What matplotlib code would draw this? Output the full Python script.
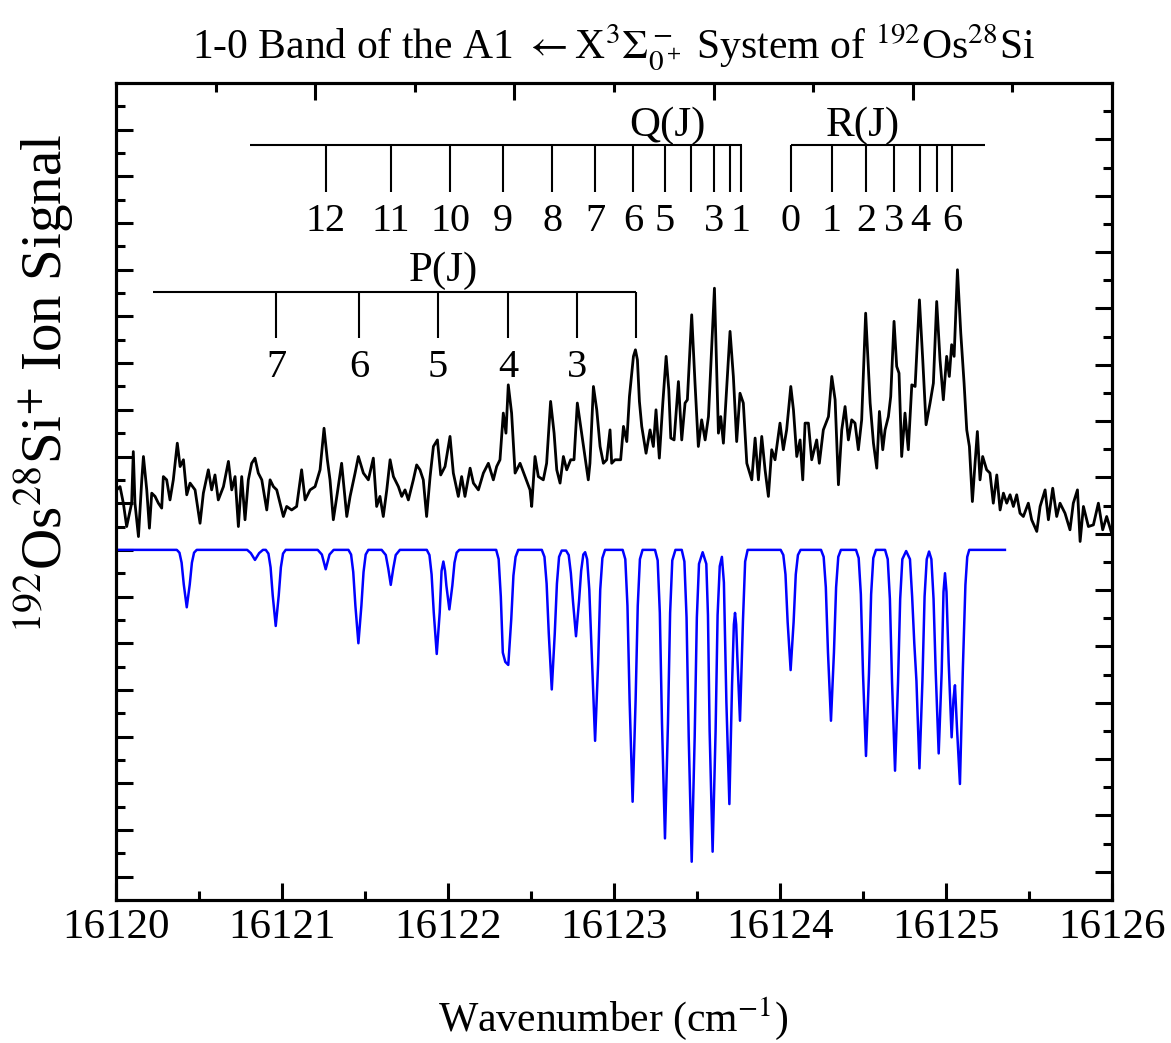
import numpy as np
import matplotlib.pyplot as plt

plt.rcParams['font.family'] = ['Liberation Serif', 'DejaVu Serif']
plt.rcParams['mathtext.fontset'] = 'stix'

obs_points = [
    (16120.004, 17.57), (16120.024, 17.71), (16120.044, 17.00), (16120.064, 16.00), (16120.094, 17.00),
    (16120.104, 19.21), (16120.114, 17.00), (16120.135, 15.57), (16120.155, 18.00), (16120.165, 19.00),
    (16120.185, 17.57), (16120.201, 15.93), (16120.215, 17.43), (16120.235, 17.29), (16120.255, 17.00),
    (16120.275, 16.79), (16120.285, 18.14), (16120.305, 18.00), (16120.325, 17.14), (16120.345, 18.00),
    (16120.369, 19.57), (16120.386, 18.57), (16120.406, 18.86), (16120.426, 17.36), (16120.446, 17.86),
    (16120.476, 17.57), (16120.506, 16.14), (16120.526, 17.43), (16120.556, 18.43), (16120.576, 17.57),
    (16120.596, 18.21), (16120.616, 17.14), (16120.647, 17.71), (16120.677, 18.79), (16120.697, 17.57),
    (16120.717, 18.14), (16120.737, 16.00), (16120.757, 18.14), (16120.777, 16.29), (16120.797, 18.00),
    (16120.817, 18.71), (16120.837, 18.93), (16120.857, 18.29), (16120.878, 18.00), (16120.908, 16.71),
    (16120.928, 18.00), (16120.948, 17.71), (16120.968, 17.57), (16121.008, 16.43), (16121.028, 16.86),
    (16121.058, 16.71), (16121.088, 16.86), (16121.118, 18.43), (16121.139, 17.14), (16121.169, 17.57),
    (16121.199, 17.71), (16121.229, 18.43), (16121.253, 20.21), (16121.273, 18.86), (16121.289, 18.00),
    (16121.309, 16.29), (16121.333, 17.43), (16121.359, 18.71), (16121.390, 16.43), (16121.410, 17.29),
    (16121.440, 18.29), (16121.460, 19.00), (16121.490, 18.29), (16121.520, 18.00), (16121.550, 18.93),
    (16121.570, 16.86), (16121.590, 17.29), (16121.610, 16.43), (16121.631, 17.57), (16121.651, 18.86),
    (16121.671, 18.14), (16121.701, 17.71), (16121.721, 17.29), (16121.741, 17.57), (16121.761, 17.14),
    (16121.791, 18.00), (16121.811, 18.64), (16121.831, 18.43), (16121.851, 18.00), (16121.871, 16.43),
    (16121.892, 18.14), (16121.912, 19.43), (16121.936, 19.71), (16121.956, 18.21), (16121.982, 18.57),
    (16122.012, 19.86), (16122.032, 18.29), (16122.062, 17.29), (16122.082, 18.14), (16122.102, 17.29),
    (16122.133, 18.50), (16122.153, 17.86), (16122.183, 17.57), (16122.213, 18.29), (16122.243, 18.71),
    (16122.273, 18.00), (16122.293, 18.57), (16122.313, 18.86), (16122.333, 20.86), (16122.349, 20.00),
    (16122.363, 22.07), (16122.383, 20.86), (16122.404, 18.29), (16122.434, 18.71), (16122.464, 18.14),
    (16122.494, 17.57), (16122.504, 16.86), (16122.524, 19.00), (16122.544, 18.14), (16122.574, 18.00),
    (16122.594, 18.71), (16122.618, 21.36), (16122.639, 20.00), (16122.655, 18.43), (16122.675, 17.86),
    (16122.695, 19.00), (16122.715, 18.43), (16122.739, 18.86), (16122.759, 18.86), (16122.779, 21.29),
    (16122.805, 20.00), (16122.825, 19.00), (16122.845, 18.00), (16122.855, 18.71), (16122.876, 22.00),
    (16122.896, 21.00), (16122.916, 19.43), (16122.936, 18.71), (16122.956, 18.86), (16122.976, 20.14),
    (16122.986, 18.71), (16123.006, 18.86), (16123.040, 18.86), (16123.057, 20.29), (16123.077, 19.64),
    (16123.093, 21.57), (16123.117, 23.29), (16123.129, 23.57), (16123.141, 23.14), (16123.153, 21.36),
    (16123.167, 20.29), (16123.193, 19.14), (16123.217, 20.14), (16123.237, 19.43), (16123.253, 21.00),
    (16123.273, 18.93), (16123.294, 21.29), (16123.314, 23.29), (16123.330, 21.86), (16123.342, 19.79),
    (16123.362, 19.71), (16123.388, 22.21), (16123.408, 19.71), (16123.428, 21.29), (16123.442, 21.43),
    (16123.468, 25.07), (16123.488, 22.14), (16123.508, 19.43), (16123.528, 20.57), (16123.549, 19.71),
    (16123.569, 20.71), (16123.605, 26.21), (16123.629, 20.00), (16123.643, 20.71), (16123.659, 19.57),
    (16123.699, 24.36), (16123.719, 22.43), (16123.739, 19.64), (16123.759, 21.71), (16123.779, 21.29),
    (16123.800, 18.71), (16123.830, 18.00), (16123.850, 19.79), (16123.870, 18.00), (16123.890, 19.86),
    (16123.910, 18.43), (16123.930, 17.29), (16123.950, 19.29), (16123.970, 18.86), (16124.000, 20.43),
    (16124.020, 19.29), (16124.040, 20.14), (16124.065, 22.00), (16124.081, 21.00), (16124.101, 19.00),
    (16124.121, 19.71), (16124.137, 18.00), (16124.151, 20.43), (16124.171, 20.43), (16124.191, 18.86),
    (16124.221, 19.71), (16124.237, 18.71), (16124.261, 20.14), (16124.292, 20.71), (16124.312, 22.43),
    (16124.332, 21.43), (16124.352, 17.79), (16124.372, 20.14), (16124.392, 21.14), (16124.412, 19.71),
    (16124.432, 20.57), (16124.452, 20.43), (16124.472, 19.29), (16124.492, 20.57), (16124.516, 25.14),
    (16124.543, 21.29), (16124.563, 19.57), (16124.583, 18.50), (16124.599, 20.93), (16124.619, 19.29),
    (16124.633, 20.14), (16124.653, 20.71), (16124.667, 21.57), (16124.687, 24.79), (16124.703, 22.86),
    (16124.717, 22.57), (16124.733, 19.00), (16124.753, 20.86), (16124.773, 19.29), (16124.794, 22.07),
    (16124.814, 22.00), (16124.840, 25.71), (16124.860, 23.14), (16124.880, 20.36), (16124.904, 21.29),
    (16124.924, 22.14), (16124.944, 25.64), (16124.964, 23.14), (16124.984, 21.43), (16125.004, 23.29),
    (16125.020, 22.43), (16125.034, 23.79), (16125.049, 23.29), (16125.069, 27.00), (16125.089, 24.29),
    (16125.109, 22.14), (16125.125, 20.14), (16125.141, 19.43), (16125.159, 17.07), (16125.175, 18.71),
    (16125.189, 20.07), (16125.205, 18.00), (16125.221, 19.00), (16125.245, 18.43), (16125.265, 18.29),
    (16125.285, 17.00), (16125.306, 18.21), (16125.326, 16.71), (16125.346, 17.43), (16125.366, 17.00),
    (16125.386, 17.36), (16125.406, 16.86), (16125.426, 17.36), (16125.446, 16.57), (16125.466, 16.43),
    (16125.496, 17.00), (16125.516, 16.29), (16125.547, 15.79), (16125.567, 16.86), (16125.597, 17.57),
    (16125.617, 16.29), (16125.643, 17.64), (16125.667, 16.43), (16125.687, 17.00), (16125.717, 16.57),
    (16125.747, 15.86), (16125.767, 17.00), (16125.792, 17.57), (16125.808, 15.36), (16125.828, 16.86),
    (16125.858, 16.00), (16125.888, 16.07), (16125.918, 17.00), (16125.944, 15.86), (16125.968, 16.43),
    (16125.998, 15.71),
]

# simulated spectrum (drawn downward from a baseline)
sim_points = [
    (16120.000, 15.0), (16120.366, 15.0), (16120.382, 14.88), (16120.395, 14.45), (16120.408, 13.52),
    (16120.426, 12.54), (16120.444, 13.52), (16120.457, 14.45), (16120.470, 14.88), (16120.486, 15.0),
    (16120.790, 15.0), (16120.812, 14.86), (16120.837, 14.57), (16120.862, 14.86), (16120.885, 15.0),
    (16120.902, 15.0), (16120.918, 14.84), (16120.931, 14.25), (16120.944, 13.04), (16120.962, 11.74),
    (16120.980, 13.04), (16120.993, 14.25), (16121.006, 14.84), (16121.022, 15.0),
    (16121.215, 15.0), (16121.240, 14.80), (16121.263, 14.17), (16121.286, 14.80), (16121.311, 15.0),
    (16121.400, 15.0), (16121.416, 14.80), (16121.429, 14.05), (16121.442, 12.60), (16121.460, 11.00),
    (16121.478, 12.60), (16121.491, 14.05), (16121.504, 14.80), (16121.520, 15.0),
    (16121.600, 15.0), (16121.625, 14.78), (16121.640, 14.20), (16121.655, 13.50), (16121.670, 14.20),
    (16121.685, 14.78), (16121.710, 15.0),
    (16121.872, 15.0), (16121.888, 14.78), (16121.901, 13.95), (16121.914, 12.32), (16121.932, 10.54),
    (16121.950, 12.32), (16121.961, 14.10), (16121.972, 14.50), (16121.982, 14.10), (16121.990, 13.47),
    (16122.008, 12.45), (16122.026, 13.47), (16122.039, 14.45), (16122.052, 14.88), (16122.068, 15.0),
    (16122.290, 15.0), (16122.305, 14.60), (16122.318, 13.00), (16122.330, 10.60), (16122.345, 10.20),
    (16122.363, 10.07), (16122.381, 12.04), (16122.394, 13.90), (16122.407, 14.70), (16122.423, 15.0),
    (16122.565, 15.0), (16122.581, 14.70), (16122.594, 13.55), (16122.607, 11.41), (16122.625, 9.02),
    (16122.643, 11.41), (16122.656, 13.55), (16122.669, 14.70), (16122.685, 14.97),
    (16122.711, 14.97), (16122.727, 14.78), (16122.740, 14.00), (16122.753, 12.78), (16122.771, 11.30),
    (16122.789, 12.78), (16122.802, 14.10), (16122.815, 14.80), (16122.826, 14.90),
    (16122.838, 14.60), (16122.851, 13.30), (16122.868, 10.10), (16122.886, 6.82), (16122.904, 10.10),
    (16122.917, 13.30), (16122.930, 14.65), (16122.946, 15.0),
    (16123.052, 15.0), (16123.068, 14.60), (16123.081, 12.60), (16123.094, 8.53), (16123.112, 4.21),
    (16123.130, 8.53), (16123.143, 12.60), (16123.156, 14.60), (16123.172, 15.0),
    (16123.247, 15.0), (16123.263, 14.55), (16123.276, 12.30), (16123.289, 7.58), (16123.307, 2.64),
    (16123.325, 7.58), (16123.338, 12.30), (16123.351, 14.55), (16123.370, 15.0),
    (16123.408, 15.0), (16123.424, 14.50), (16123.437, 12.10), (16123.450, 6.98), (16123.468, 1.64),
    (16123.486, 6.98), (16123.499, 12.10), (16123.512, 14.40), (16123.534, 14.90),
    (16123.556, 14.40), (16123.566, 12.20), (16123.576, 7.24), (16123.594, 2.07), (16123.612, 7.24),
    (16123.624, 12.20), (16123.637, 14.30), (16123.650, 14.70),
    (16123.662, 13.60), (16123.677, 8.47), (16123.695, 4.11), (16123.711, 9.20), (16123.722, 11.80),
    (16123.729, 12.30), (16123.736, 11.80), (16123.743, 10.40), (16123.759, 7.68), (16123.777, 12.00),
    (16123.790, 14.50), (16123.805, 15.0),
    (16124.004, 15.0), (16124.020, 14.78), (16124.033, 13.95), (16124.046, 11.91), (16124.064, 9.85),
    (16124.082, 11.91), (16124.095, 13.95), (16124.108, 14.78), (16124.124, 15.0),
    (16124.247, 15.0), (16124.263, 14.70), (16124.276, 13.40), (16124.289, 10.61), (16124.307, 7.68),
    (16124.325, 10.61), (16124.338, 13.40), (16124.351, 14.70), (16124.367, 15.0),
    (16124.458, 15.0), (16124.474, 14.65), (16124.487, 13.10), (16124.500, 9.70), (16124.518, 6.17),
    (16124.536, 9.70), (16124.549, 13.10), (16124.562, 14.65), (16124.578, 15.0),
    (16124.633, 15.0), (16124.649, 14.60), (16124.662, 12.90), (16124.675, 9.32), (16124.693, 5.54),
    (16124.711, 9.32), (16124.724, 12.90), (16124.737, 14.60), (16124.760, 14.95),
    (16124.783, 14.60), (16124.796, 13.00), (16124.809, 11.00), (16124.822, 9.38), (16124.840, 5.64),
    (16124.858, 9.38), (16124.871, 13.00), (16124.884, 14.60), (16124.898, 14.93),
    (16124.912, 14.60), (16124.925, 12.90), (16124.938, 9.77), (16124.956, 6.28), (16124.974, 9.77),
    (16124.985, 13.20), (16124.994, 14.00), (16125.003, 13.20),
    (16125.016, 10.20), (16125.034, 6.97), (16125.045, 8.60), (16125.054, 9.20), (16125.066, 7.40),
    (16125.084, 4.97), (16125.102, 10.00), (16125.117, 13.50), (16125.128, 14.70), (16125.140, 15.0),
    (16125.355, 15.0),
]

# line assignments
q_lines = [16121.265, 16121.657, 16122.012, 16122.331, 16122.627, 16122.886,
           16123.114, 16123.307, 16123.464, 16123.602, 16123.699, 16123.765]
q_names = ['12', '11', '10', '9', '8', '7', '6', '5', '', '3', '', '1']
q_span = (16120.807, 16123.771)

r_lines = [16124.066, 16124.313, 16124.518, 16124.687, 16124.843, 16124.946, 16125.036]
r_names = ['0', '1', '2', '3', '4', '', '6']
r_span = (16124.066, 16125.235)

p_lines = [16120.964, 16121.464, 16121.940, 16122.361, 16122.777, 16123.133]
p_names = ['7', '6', '5', '4', '3', '']
p_span = (16120.223, 16123.133)

obs_x, obs_y = np.array(obs_points).T
sim_x, sim_y = np.array(sim_points).T

fig = plt.figure(figsize=(11.71, 10.43), dpi=100)
ax = fig.add_axes([0.0991, 0.1371, 0.8505, 0.7833])

ax.plot(obs_x, obs_y, color='black', lw=2.0, zorder=3, solid_joinstyle='round')
ax.plot(sim_x, sim_y, color='#0000ff', lw=1.8, zorder=3, solid_joinstyle='round')


def ladder(lines, names, span, y_top, y_bot, y_num, title, x_title, y_title):
    ax.hlines(y_top, span[0], span[1], color='black', lw=1.5)
    ax.vlines(lines, y_bot, y_top, color='black', lw=1.5)
    for xv, nm in zip(lines, names):
        if nm:
            ax.text(xv, y_num, nm, ha='center', va='baseline', fontsize=29)
    ax.text(x_title, y_title, title, ha='center', va='baseline', fontsize=31)


ladder(q_lines, q_names, q_span, 32.35, 30.33, 28.66, 'Q(J)', 16123.319, 32.73)
ladder(r_lines, r_names, r_span, 32.35, 30.33, 28.66, 'R(J)', 16124.50, 32.73)
ladder(p_lines, p_names, p_span, 26.05, 24.08, 22.41, 'P(J)', 16121.97, 26.52)

ax.set_xlim(16120, 16126)
ax.set_ylim(0, 35)
ax.set_xticks(np.arange(16120, 16126.5, 1))
ax.set_xticks(np.arange(16120.5, 16126, 1), minor=True)
ax.set_xticklabels([str(v) for v in range(16120, 16127)])
ax.set_yticks(np.arange(1, 35, 2))
ax.set_yticks(np.arange(2, 35, 2), minor=True)
ax.set_yticklabels([])
ax.tick_params(which='both', direction='in', width=2.2, labelsize=31, pad=6)
ax.tick_params(which='major', length=12)
ax.tick_params(which='minor', length=6.5)

# the top and right frame carry their own tick spacing
axr = ax.twinx()
axr.set_ylim(0, 29)
axr.set_yticks(np.arange(1, 29, 2))
axr.set_yticks(np.arange(2, 29, 2), minor=True)
axr.set_yticklabels([])
axt = ax.twiny()
axt.set_xlim(0, 10)
axt.set_xticks([2, 4, 6, 8])
axt.set_xticks([1, 3, 5, 7, 9], minor=True)
axt.set_xticklabels([])
for a in (axr, axt):
    a.tick_params(which='both', direction='in', width=2.2)
    a.tick_params(which='major', length=12)
    a.tick_params(which='minor', length=6.5)
for a in (ax, axr, axt):
    for s in a.spines.values():
        s.set_linewidth(2.2)

fig.text(0.524, 0.944, r'1-0 Band of the A1 $\leftarrow$X$^3\Sigma^-_{0^+}$ System of $^{192}$Os$^{28}$Si',
         ha='center', va='baseline', fontsize=30)
fig.text(0.524, 0.012, r'Wavenumber (cm$^{-1}$)', ha='center', va='baseline', fontsize=30)
fig.text(0.038, 0.632, r'$^{192}$Os$^{28}$Si$^{+}$ Ion Signal', rotation=90,
         ha='center', va='center', fontsize=41)

fig.savefig('out.png', dpi=100)
